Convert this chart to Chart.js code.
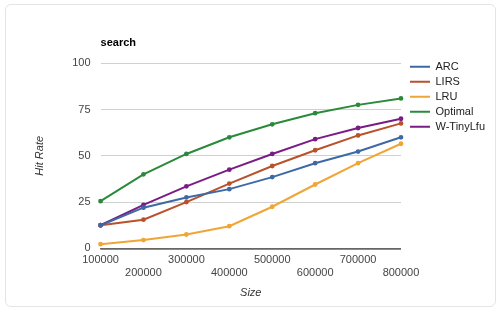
<!DOCTYPE html>
<html>
<head>
<meta charset="utf-8">
<script src="https://cdn.jsdelivr.net/npm/chart.js@4"></script>
<style>
  html, body { margin: 0; padding: 0; background: #fff; }
  #wrap { position: relative; width: 500px; height: 312px; }
  #card {
    position: absolute; left: 5px; top: 4px; width: 491px; height: 303px;
    border: 1px solid #e4e4e4; border-radius: 6px; box-sizing: border-box;
  }
  canvas { position: absolute; left: 0; top: 0; }
</style>
</head>
<body>
<div id="wrap">
  <div id="card"></div>
  <canvas id="chart" width="500" height="312"></canvas>
</div>
<script>
// cache sizes on the x axis
const sizes = [100000, 200000, 300000, 400000, 500000, 600000, 700000, 800000];

// hit rate per policy
const arc = [12.5, 22, 27.5, 32, 38.5, 46, 52.3, 60];
const lirs = [12.5, 15.5, 25, 35, 44.5, 53, 61, 67.5];
const lru = [2.3, 4.5, 7.5, 12, 22.5, 34.5, 46, 56.5];
const optimal = [25.5, 40, 51, 60, 67, 73, 77.5, 81];
const tinyLfu = [12.5, 23.5, 33.5, 42.5, 51, 59, 65, 70];

const yTicks = [0, 25, 50, 75, 100];

const FONT = 'Arial, "Liberation Sans", sans-serif';

function line(label, data, color) {
    return {
        label: label,
        data: data,
        borderColor: color,
        backgroundColor: color,
        borderWidth: 2,
        pointRadius: 1.4,
        pointHoverRadius: 1.4,
        tension: 0,
    };
}

const datasets = [
    line('ARC', arc, '#3d6aa6'),
    line('LIRS', lirs, '#b9512b'),
    line('LRU', lru, '#f0a534'),
    line('Optimal', optimal, '#2b8a3a'),
    line('W-TinyLfu', tinyLfu, '#7a1c85'),
];

// small shift of the legend block so it sits like in the original
const legendNudge = {
    id: 'legendNudge',
    afterLayout(chart) {
        const lg = chart.legend;
        lg.top -= 6; lg.bottom -= 6;
        lg.left += 5; lg.right += 5;
    },
};

new Chart(document.getElementById('chart'), {
    type: 'line',
    data: {
        // alternate rows of tick labels, like the original
        labels: sizes.map((s, i) => i % 2 === 0 ? [String(s)] : ['', String(s)]),
        datasets: datasets,
    },
    plugins: [legendNudge],
    options: {
        responsive: false,
        animation: false,
        layout: { padding: { left: 33, right: 10, top: 24, bottom: 12 } },
        plugins: {
            title: {
                display: true,
                text: 'search',
                align: 'start',
                fullSize: false,
                color: '#000',
                font: { family: FONT, size: 11, weight: 'bold' },
                padding: { top: 12, bottom: 14 },
            },
            legend: {
                position: 'right',
                align: 'start',
                fullSize: false,
                labels: {
                    usePointStyle: true,
                    pointStyle: 'line',
                    pointStyleWidth: 20,
                    boxWidth: 20,
                    boxHeight: 2,
                    padding: 4,
                    color: '#222',
                    font: { family: FONT, size: 11 },
                },
            },
            tooltip: { enabled: false },
        },
        scales: {
            x: {
                offset: false,
                grid: { display: false, drawTicks: false },
                border: { display: true, color: '#666', width: 1.5 },
                ticks: {
                    autoSkip: false,
                    maxRotation: 0,
                    padding: 5,
                    color: '#444',
                    font: { family: FONT, size: 11, lineHeight: 1.2 },
                },
                title: {
                    display: true,
                    text: 'Size',
                    color: '#333',
                    font: { family: FONT, size: 11, style: 'italic' },
                    padding: { top: 2, bottom: 0 },
                },
            },
            y: {
                min: 0,
                max: 100,
                afterBuildTicks: (axis) => { axis.ticks = yTicks.map(v => ({ value: v })); },
                grid: {
                    drawTicks: false,
                    color: (ctx) => ctx.tick && ctx.tick.value === 0 ? '#666' : '#d0d0d0',
                    lineWidth: (ctx) => ctx.tick && ctx.tick.value === 0 ? 1.5 : 1,
                },
                border: { display: false },
                ticks: {
                    padding: 10,
                    color: '#444',
                    font: { family: FONT, size: 11 },
                },
                title: {
                    display: true,
                    text: 'Hit Rate',
                    color: '#333',
                    font: { family: FONT, size: 11, style: 'italic' },
                    padding: { top: 0, bottom: 16 },
                },
            },
        },
    },
});
</script>
</body>
</html>
